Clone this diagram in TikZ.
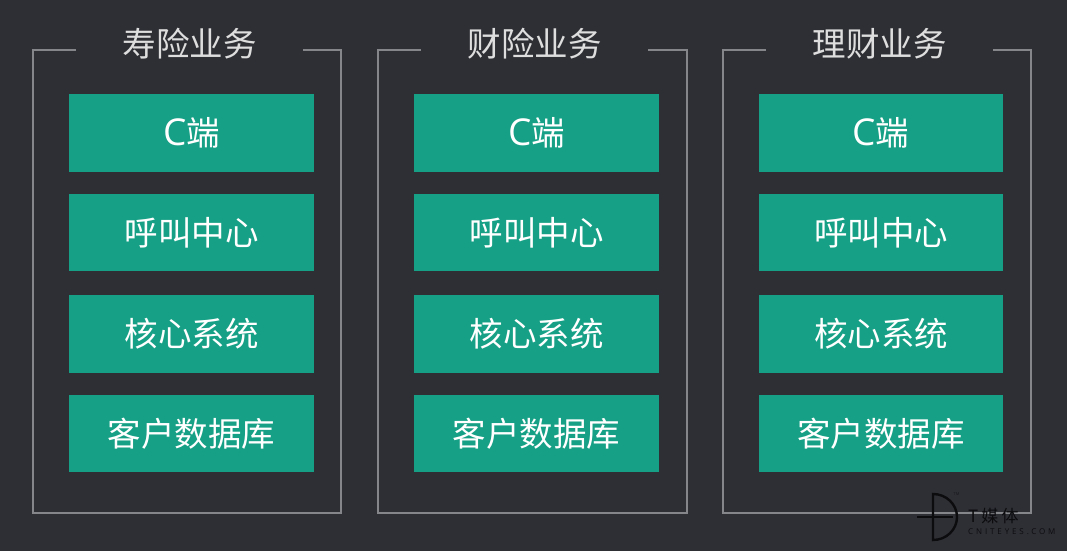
\documentclass[tikz,border=0pt]{standalone}
\usepackage{fontspec}
\setmainfont{Noto Sans CJK SC}[Scale=1]
\newfontfamily\latinf{Open Sans}
\definecolor{bgc}{HTML}{2E2F35}
\definecolor{boxc}{HTML}{16A085}
\definecolor{framec}{HTML}{85868A}
\definecolor{titlec}{HTML}{DEDEDE}
\definecolor{logoc}{HTML}{0C0C0F}
\newcommand{\lowr}[1]{\raisebox{-1pt}{#1}}
\newcommand{\bigc}{{\latinf\fontsize{37}{36}\selectfont C}}
\tikzset{
  cardbox/.style={fill=boxc,draw=none,text=white,minimum height=#1,inner sep=0pt,font=\fontsize{33.5}{36}\selectfont,anchor=center},
  grouptitle/.style={text=titlec,inner sep=0pt,font=\fontsize{33.5}{36}\selectfont,anchor=center},
  framepath/.style={draw=framec,line width=1.6pt,line join=miter},
  logoline/.style={draw=logoc,line width=2.4pt},
}
\begin{document}
\begin{tikzpicture}[x=1pt,y=-1pt]
\useasboundingbox (0,0) rectangle (1067,551);
\fill[bgc] (0,0) rectangle (1067,551);
% column 1
\draw[framepath] (75.5,50) -- (33,50) -- (33,513) -- (341,513) -- (341,50) -- (303,50);
\node[grouptitle] (t1) at (189.5,44) {寿险业务};
\node[cardbox=78pt,minimum width=245pt] (a1) at (191.5,133) {\lowr{\bigc 端}};
\node[cardbox=77pt,minimum width=245pt] (b1) at (191.5,232.5) {\lowr{呼叫中心}};
\node[cardbox=78pt,minimum width=245pt] (c1) at (191.5,334) {\lowr{核心系统}};
\node[cardbox=77pt,minimum width=245pt] (d1) at (191.5,433.5) {\lowr{客户数据库}};
% column 2
\draw[framepath] (420.5,50) -- (378,50) -- (378,513) -- (687,513) -- (687,50) -- (648,50);
\node[grouptitle] (t2) at (534.5,44) {财险业务};
\node[cardbox=78pt,minimum width=245pt] (a2) at (536.5,133) {\lowr{\bigc 端}};
\node[cardbox=77pt,minimum width=245pt] (b2) at (536.5,232.5) {\lowr{呼叫中心}};
\node[cardbox=78pt,minimum width=245pt] (c2) at (536.5,334) {\lowr{核心系统}};
\node[cardbox=77pt,minimum width=245pt] (d2) at (536.5,433.5) {\lowr{客户数据库}};
% column 3
\draw[framepath] (765.5,50) -- (723,50) -- (723,513) -- (1031,513) -- (1031,50) -- (993,50);
\node[grouptitle] (t3) at (879.5,44) {理财业务};
\node[cardbox=78pt,minimum width=244pt] (a3) at (881,133) {\lowr{\bigc 端}};
\node[cardbox=77pt,minimum width=244pt] (b3) at (881,232.5) {\lowr{呼叫中心}};
\node[cardbox=78pt,minimum width=244pt] (c3) at (881,334) {\lowr{核心系统}};
\node[cardbox=77pt,minimum width=244pt] (d3) at (881,433.5) {\lowr{客户数据库}};
% logo
\draw[logoline] (933,494) arc[start angle=90,end angle=-90,x radius=24,y radius=-23] -- cycle;
\draw[logoline] (917,517) -- (953,517);
\node[inner sep=0pt,text=logoc!70!bgc,font=\fontsize{4}{4}\selectfont\latinf] (tm) at (956.5,494.5) {TM};
\node[inner sep=0pt,anchor=west,text=logoc,font=\fontsize{17}{18}\selectfont\addfontfeature{LetterSpace=18}] (lg) at (968,516) {T媒体};
\node[inner sep=0pt,anchor=west,text=logoc,font=\fontsize{8}{9}\selectfont\latinf\addfontfeature{LetterSpace=36}] (lu) at (968,531.5) {CNITEYES.COM};
\end{tikzpicture}
\end{document}
